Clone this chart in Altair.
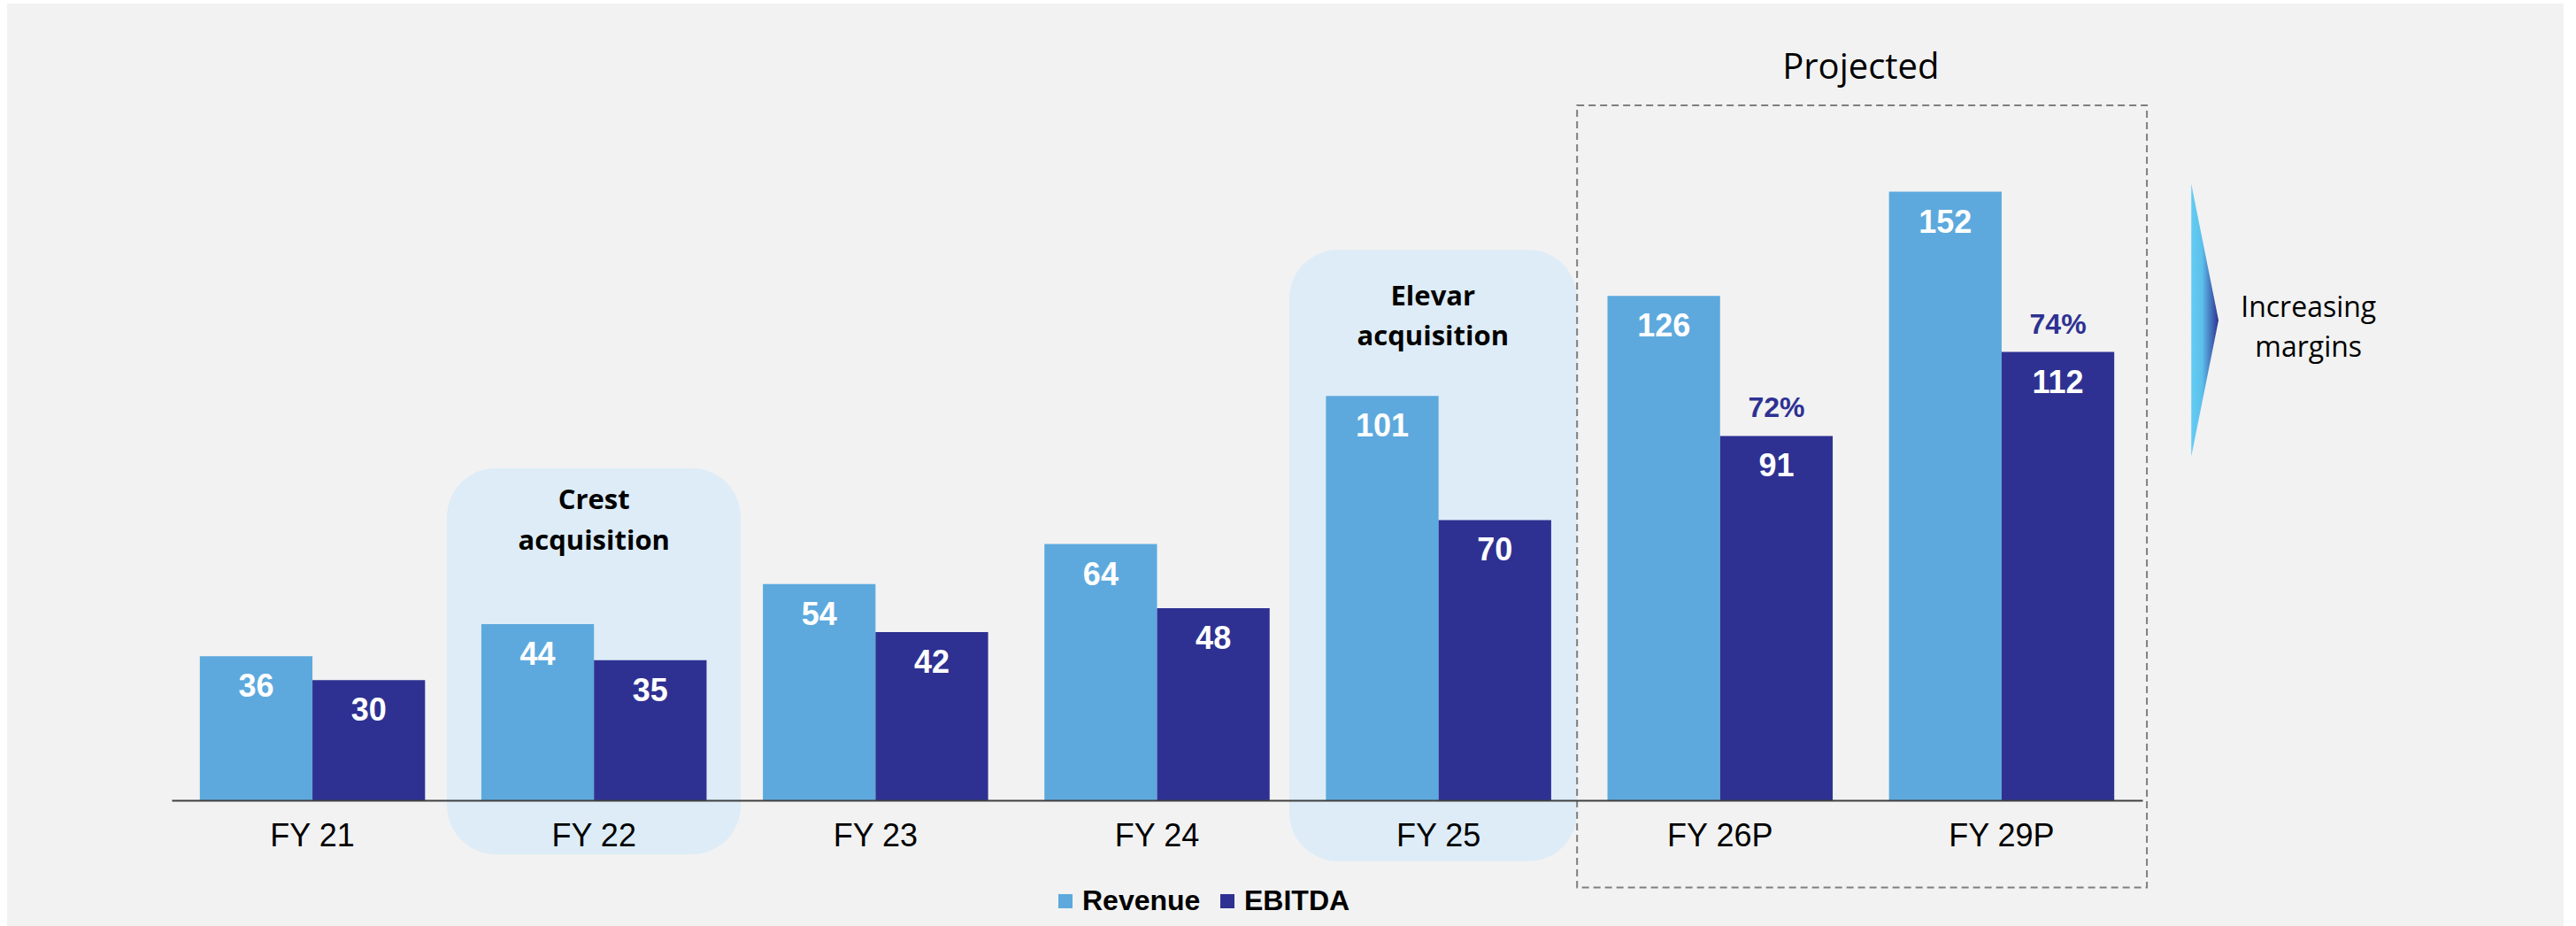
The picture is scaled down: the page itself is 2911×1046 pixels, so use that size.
import altair as alt
import pandas as pd

# ---- data ----
years = ["FY 21", "FY 22", "FY 23", "FY 24", "FY 25", "FY 26P", "FY 29P"]
series = ["Revenue", "EBITDA"]
revenue = [36, 44, 54, 64, 101, 126, 152]
ebitda = [30, 35, 42, 48, 70, 91, 112]
margin_years = ["FY 26P", "FY 29P"]
margin_labels = ["72%", "74%"]
margin_base = [91, 112]

# ---- annotation texts ----
box_texts = ["Crest", "acquisition", "Elevar", "acquisition"]
side_texts = ["Increasing", "margins"]
proj_text = ["Projected"]

# ---- layout (annotation coordinates: x in category slots 0..7, y in value units) ----
hl_x = [0.978, 3.970]
hl_x2 = [2.021, 4.992]
hl_y = [82.9, 137.5]
hl_y2 = [-13.5, -15.2]
dash_x, dash_x2, dash_y, dash_y2 = [4.992], [7.016], [173.6], [-21.8]
box_text_x = [1.5, 1.5, 4.48, 4.48]
box_text_y = [74.7, 64.6, 125.7, 115.7]
side_text_x = [7.59, 7.59]
side_text_y = [123.0, 112.9]
proj_x, proj_y = [6.0], [182.9]
arrow_x, arrow_y = [7.222], [119.9]
bg_x, bg_x2, bg_y, bg_y2 = [-0.585], [8.496], [199.0], [-31.4]

REV = "#5DA9DD"
EBI = "#2E3192"
BG = "#F2F2F2"
HL = "#DDECF7"

W, H = 2227, 814
YDOM = [0, 180]

bars_df = pd.DataFrame({
    "year": years * 2,
    "series": ["Revenue"] * len(years) + ["EBITDA"] * len(years),
    "value": revenue + ebitda,
})
pct_df = pd.DataFrame({"year": margin_years, "series": ["EBITDA"] * 2,
                       "value": margin_base, "label": margin_labels})

yq = lambda f: alt.Y(f, scale=alt.Scale(domain=YDOM, nice=False, zero=False), axis=None)
xq = lambda f: alt.X(f, scale=alt.Scale(domain=[0, 7], nice=False, zero=False), axis=None)

xband_axis = alt.Axis(title=None, labelAngle=0, labelFont="Liberation Sans", labelFontSize=36,
                      labelColor="black", labelPadding=23, ticks=False, domainColor="#404040",
                      domainWidth=2, grid=False, zindex=1)
xband = lambda axis: alt.X("year:N", sort=years,
                           scale=alt.Scale(domain=years, paddingInner=0.2, paddingOuter=0.1),
                           axis=axis)
xoff = alt.XOffset("series:N", sort=series,
                   scale=alt.Scale(domain=series, paddingInner=0, paddingOuter=0))

# background panel
bg = alt.Chart(pd.DataFrame({"x": bg_x, "x2": bg_x2, "y": bg_y, "y2": bg_y2})).mark_rect(
    color=BG).encode(x=xq("x:Q"), x2="x2:Q", y=yq("y:Q"), y2="y2:Q")

# highlight boxes
hl = alt.Chart(pd.DataFrame({"x": hl_x, "x2": hl_x2, "y": hl_y, "y2": hl_y2})).mark_rect(
    color=HL, cornerRadius=55).encode(x=xq("x:Q"), x2="x2:Q", y=yq("y:Q"), y2="y2:Q")

# bars
bars = alt.Chart(bars_df).mark_bar().encode(
    x=xband(xband_axis),
    xOffset=xoff,
    y=yq("value:Q"),
    color=alt.Color("series:N", sort=series,
                    scale=alt.Scale(domain=series, range=[REV, EBI]),
                    legend=alt.Legend(orient="none", legendX=994, legendY=912,
                                      direction="horizontal", title=None,
                                      symbolType="square", symbolSize=256,
                                      symbolStrokeWidth=0, symbolOpacity=1,
                                      labelFont="Liberation Sans", labelFontSize=32,
                                      labelFontWeight="bold", labelColor="black",
                                      labelOffset=3, columnPadding=14, padding=0,
                                      zindex=1)),
)

bar_text = alt.Chart(bars_df).mark_text(
    color="white", font="Liberation Sans", fontWeight="bold", fontSize=36,
    baseline="middle", dy=35).encode(
    x=xband(None), xOffset=xoff, y=yq("value:Q"), text="value:Q")

pct_text = alt.Chart(pct_df).mark_text(
    color=EBI, font="Liberation Sans", fontWeight="bold", fontSize=32,
    baseline="middle", dy=-31).encode(
    x=xband(None), xOffset=xoff, y=yq("value:Q"), text="label:N")

# dashed projected box
dash = alt.Chart(pd.DataFrame({"x": dash_x, "x2": dash_x2, "y": dash_y, "y2": dash_y2})).mark_rect(
    filled=False, stroke="#7F7F7F", strokeWidth=2, strokeDash=[8, 5]).encode(
    x=xq("x:Q"), x2="x2:Q", y=yq("y:Q"), y2="y2:Q")

box_lbl = alt.Chart(pd.DataFrame({"t": box_texts, "x": box_text_x, "y": box_text_y})).mark_text(
    font="Open Sans", fontWeight="bold", fontSize=31, color="black", baseline="middle").encode(
    x=xq("x:Q"), y=yq("y:Q"), text="t:N")

side_lbl = alt.Chart(pd.DataFrame({"t": side_texts, "x": side_text_x, "y": side_text_y})).mark_text(
    font="Open Sans", fontSize=32, color="black", baseline="middle").encode(
    x=xq("x:Q"), y=yq("y:Q"), text="t:N")

proj_lbl = alt.Chart(pd.DataFrame({"t": proj_text, "x": proj_x, "y": proj_y})).mark_text(
    font="Open Sans", fontSize=40, color="black", baseline="middle").encode(
    x=xq("x:Q"), y=yq("y:Q"), text="t:N")

grad = alt.LinearGradient(
    gradient="linear",
    stops=[alt.GradientStop(color="#63CCF3", offset=0),
           alt.GradientStop(color="#5CC0EB", offset=0.4),
           alt.GradientStop(color="#2E3192", offset=1)],
    x1=0, x2=1, y1=0, y2=0)

arrow = alt.Chart(pd.DataFrame({"x": arrow_x, "y": arrow_y})).mark_point(
    shape="M -0.1 -1 L 0.1 0 L -0.1 1 Z", size=308 * 308, filled=True,
    fill=grad, opacity=1, strokeWidth=0).encode(x=xq("x:Q"), y=yq("y:Q"))

chart = alt.layer(bg, hl, bars, bar_text, pct_text, dash, box_lbl, side_lbl, proj_lbl, arrow).resolve_scale(
    x="independent", y="independent", xOffset="shared"
).properties(
    width=W, height=H,
    padding={"left": 194, "top": 90, "right": 490, "bottom": 142},
    autosize=alt.AutoSizeParams(type="none"),
    background="white",
).configure_view(stroke=None)

chart.save("out.html", embed_options={"renderer": "svg", "actions": False})
